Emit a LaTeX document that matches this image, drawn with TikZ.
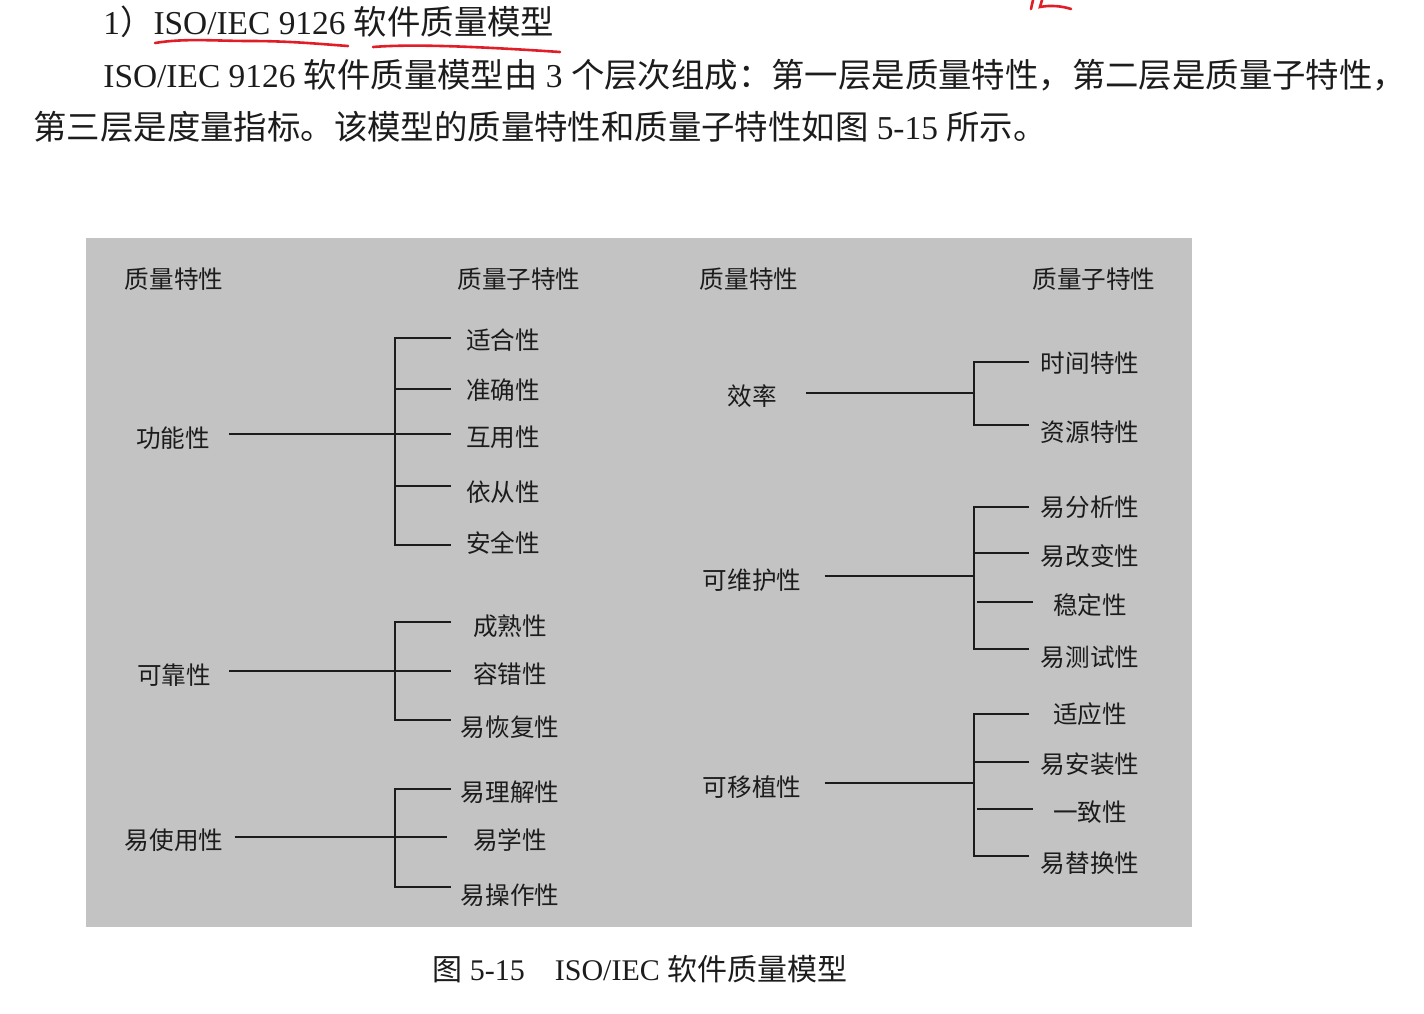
\documentclass[tikz,border=0pt]{standalone}
\usepackage{fontspec}
\setmainfont{Liberation Serif}
\newfontfamily\cjk{Noto Sans CJK SC}
\definecolor{panel}{RGB}{195,195,195}
\definecolor{ink}{RGB}{28,28,28}
\definecolor{redpen}{RGB}{225,30,40}
\begin{document}
\begin{tikzpicture}[x=0.5pt,y=-0.5pt,
  body/.style={font=\fontsize{16.7pt}{20pt}\selectfont, text=ink, inner sep=0pt, anchor=west},
  capt/.style={font=\fontsize{15pt}{18pt}\selectfont, text=ink, inner sep=0pt, anchor=west},
  lbl/.style={font=\cjk\fontsize{12.3pt}{14pt}\selectfont, text=ink, inner sep=0pt},
  ln/.style={line width=1pt, draw=ink},
  pen/.style={draw=redpen, line width=1.3pt, line cap=round},
]
\useasboundingbox[fill=white] (0,0) rectangle (1424,1013);

% ---- body text ----
\node[body] (t1) at (103,22) {1{\cjk ）}ISO/IEC 9126 {\cjk 软件质量模型}};
\node[body] (t2) at (103,75) {ISO/IEC 9126 {\cjk 软件质量模型由} 3 {\cjk 个层次组成：第一层是质量特性，第二层是质量子特性，}};
\node[body] (t3) at (33,127) {{\cjk 第三层是度量指标。该模型的质量特性和质量子特性如图} 5-15 {\cjk 所示。}};

% red pen marks
\draw[pen] (155,43) .. controls (185,38) and (215,41) .. (250,41) .. controls (290,41) and (320,44) .. (348,46);
\draw[pen] (373,47) .. controls (410,44) and (470,46) .. (560,52);
\draw[pen] (1033,0) -- (1031,9);
\draw[pen] (1042,0) -- (1040,7) .. controls (1050,5) and (1062,6) .. (1071,9);

% ---- panel ----
\fill[panel] (86,238) rectangle (1192,927);

\node[lbl] (h1) at (174,279) {质量特性};
\node[lbl] (h2) at (519,279) {质量子特性};
\node[lbl] (h3) at (749,279) {质量特性};
\node[lbl] (h4) at (1094,279) {质量子特性};

% functionality
\node[lbl, inner xsep=9.5pt] (fn) at (173,438) {功能性};
\node[lbl] (fn1) at (503,340) {适合性};
\node[lbl] (fn2) at (503,390) {准确性};
\node[lbl] (fn3) at (503,437) {互用性};
\node[lbl] (fn4) at (503,492) {依从性};
\node[lbl] (fn5) at (503,543) {安全性};
\coordinate (fnJ) at (395,434);
\coordinate (fn1e) at (451,338);
\coordinate (fn2e) at (451,389);
\coordinate (fn3e) at (451,434);
\coordinate (fn4e) at (451,486);
\coordinate (fn5e) at (451,545);
\draw[ln] (fn.east |- fnJ) -- (fnJ) -- (fn3e);
\draw[ln] (fn1e) -- (fn1e -| fnJ) -- (fn5e -| fnJ) -- (fn5e);
\draw[ln] (fn2e -| fnJ) -- (fn2e);
\draw[ln] (fn4e -| fnJ) -- (fn4e);

% reliability
\node[lbl, inner xsep=9pt] (rel) at (174,675) {可靠性};
\node[lbl] (rel1) at (510,626) {成熟性};
\node[lbl] (rel2) at (510,674) {容错性};
\node[lbl] (rel3) at (510,727) {易恢复性};
\coordinate (relJ) at (395,671);
\coordinate (rel1e) at (451,622);
\coordinate (rel2e) at (451,671);
\coordinate (rel3e) at (451,720);
\draw[ln] (rel.east |- relJ) -- (relJ) -- (rel2e);
\draw[ln] (rel1e) -- (rel1e -| relJ) -- (rel3e -| relJ) -- (rel3e);

% usability
\node[lbl, inner xsep=5.5pt] (use) at (174,840) {易使用性};
\node[lbl] (use1) at (510,792) {易理解性};
\node[lbl] (use2) at (510,840) {易学性};
\node[lbl] (use3) at (510,895) {易操作性};
\coordinate (useJ) at (395,837);
\coordinate (use1e) at (451,789);
\coordinate (use2e) at (447,837);
\coordinate (use3e) at (451,887);
\draw[ln] (use.east |- useJ) -- (useJ) -- (use2e);
\draw[ln] (use1e) -- (use1e -| useJ) -- (use3e -| useJ) -- (use3e);

% efficiency
\node[lbl, inner xsep=14.7pt] (eff) at (752,396) {效率};
\node[lbl] (eff1) at (1090,363) {时间特性};
\node[lbl] (eff2) at (1090,432) {资源特性};
\coordinate (effJ) at (974,393);
\coordinate (eff1e) at (1029,362);
\coordinate (eff2e) at (1029,425);
\draw[ln] (eff.east |- effJ) -- (effJ);
\draw[ln] (eff1e) -- (eff1e -| effJ) -- (eff2e -| effJ) -- (eff2e);

% maintainability
\node[lbl, inner xsep=11.5pt] (mnt) at (752,580) {可维护性};
\node[lbl] (mnt1) at (1090,507) {易分析性};
\node[lbl] (mnt2) at (1090,556) {易改变性};
\node[lbl] (mnt3) at (1090,605) {稳定性};
\node[lbl] (mnt4) at (1090,657) {易测试性};
\coordinate (mntJ) at (974,576);
\coordinate (mnt1e) at (1029,507);
\coordinate (mnt2e) at (1029,553);
\coordinate (mnt3s) at (977,602);
\coordinate (mnt3e) at (1033,602);
\coordinate (mnt4e) at (1029,649);
\draw[ln] (mnt.east |- mntJ) -- (mntJ);
\draw[ln] (mnt1e) -- (mnt1e -| mntJ) -- (mnt4e -| mntJ) -- (mnt4e);
\draw[ln] (mnt2e -| mntJ) -- (mnt2e);
\draw[ln] (mnt3s) -- (mnt3e);

% portability
\node[lbl, inner xsep=11.5pt] (port) at (752,787) {可移植性};
\node[lbl] (port1) at (1090,714) {适应性};
\node[lbl] (port2) at (1090,764) {易安装性};
\node[lbl] (port3) at (1090,812) {一致性};
\node[lbl] (port4) at (1090,863) {易替换性};
\coordinate (portJ) at (974,783);
\coordinate (port1e) at (1029,714);
\coordinate (port2e) at (1029,762);
\coordinate (port3s) at (977,809);
\coordinate (port3e) at (1033,809);
\coordinate (port4e) at (1029,856);
\draw[ln] (port.east |- portJ) -- (portJ);
\draw[ln] (port1e) -- (port1e -| portJ) -- (port4e -| portJ) -- (port4e);
\draw[ln] (port2e -| portJ) -- (port2e);
\draw[ln] (port3s) -- (port3e);

% caption
\node[capt] (cap) at (432,969) {{\cjk 图} 5-15\hspace{1em}ISO/IEC {\cjk 软件质量模型}};
\end{tikzpicture}
\end{document}
